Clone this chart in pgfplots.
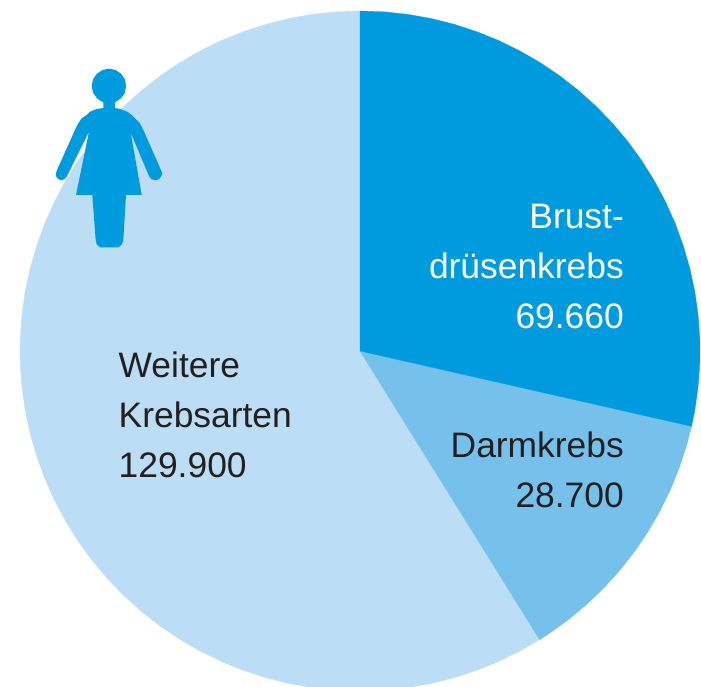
\documentclass[border=0pt]{standalone}
\usepackage{fontspec}
\setmainfont{Liberation Sans}
\usepackage{pgfplots}
\pgfplotsset{compat=1.18}
\definecolor{brust}{RGB}{0,155,223}
\definecolor{darm}{RGB}{117,193,236}
\definecolor{weitere}{RGB}{187,221,245}
\definecolor{txt}{RGB}{35,31,32}
\newcommand{\lab}{\fontsize{35.4}{35.4}\selectfont}
\begin{document}
\begin{tikzpicture}
\begin{axis}[scale only axis,width=701pt,height=687pt,
  xmin=-360,xmax=341,ymin=-336,ymax=351,
  xtick=\empty,ytick=\empty,axis line style={draw=none}]
% slices, angle and radius in px of the reference
\addplot[data cs=polar,fill=weitere,draw=weitere,line width=0.3pt] coordinates {(0,0)(-58.1,340)(-62,340)(-66,340)(-70,340)(-74,340)(-78,340)(-82,340)(-86,340)(-90,340)(-94,340)(-98,340)(-102,340)(-106,340)(-110,340)(-114,340)(-118,340)(-122,340)(-126,340)(-130,340)(-134,340)(-138,340)(-142,340)(-146,340)(-150,340)(-154,340)(-158,340)(-162,340)(-166,340)(-170,340)(-174,340)(-178,340)(-182,340)(-186,340)(-190,340)(-194,340)(-198,340)(-202,340)(-206,340)(-210,340)(-214,340)(-218,340)(-222,340)(-226,340)(-230,340)(-234,340)(-238,340)(-242,340)(-246,340)(-250,340)(-254,340)(-258,340)(-262,340)(-266,340)(-270,340)(0,0)};
\addplot[data cs=polar,fill=darm,draw=darm,line width=0.3pt] coordinates {(0,0)(-12.8,340)(-16,340)(-20,340)(-24,340)(-28,340)(-32,340)(-36,340)(-40,340)(-44,340)(-48,340)(-52,340)(-56,340)(-58.1,340)(0,0)};
\addplot[data cs=polar,fill=brust,draw=brust,line width=0.3pt] coordinates {(0,0)(90,340)(86,340)(82,340)(78,340)(74,340)(70,340)(66,340)(62,340)(58,340)(54,340)(50,340)(46,340)(42,340)(38,340)(34,340)(30,340)(26,340)(22,340)(18,340)(14,340)(10,340)(6,340)(2,340)(-2,340)(-6,340)(-10,340)(-12.8,340)(0,0)};
% figure
\addplot[fill=brust,draw=none] coordinates {(-234,265)(-235,271.6)(-238.8,277.2)(-244.4,281)(-251,282.3)(-257.6,281)(-263.2,277.2)(-267,271.6)(-268.3,265)(-267,258.4)(-263.2,252.8)(-257.6,249)(-251,247.7)(-244.4,249)(-238.8,252.8)(-235,258.4)(-234,265)};
\addplot[fill=brust,draw=none] coordinates {(-256.7,250)(-245,250)(-245,243)(-240,242)(-232.7,239.3)(-228.3,236)(-223.3,231)(-220,227.7)(-216.7,221)(-198.3,179.3)(-198,176)(-200.7,172)(-204.3,170.7)(-208.3,171.7)(-210.7,174.3)(-229.3,218.3)(-218.3,156)(-234,156)(-236.7,111)(-238,106.7)(-241.7,103.7)(-260,103.7)(-263.3,106.7)(-264.3,111)(-267.7,156)(-284,156)(-271,219.3)(-293.3,174.3)(-295.7,171.7)(-299.3,170.7)(-302.7,172.7)(-304.3,176)(-303.3,180.3)(-285,221)(-281.7,227.7)(-278.3,232.7)(-273.3,236)(-270,239.3)(-263.3,242)(-256.7,243)(-256.7,250)};
% labels
\node[anchor=base east,inner sep=0pt,text=white] at (axis cs:264,122.5) {\lab Brust-};
\node[anchor=base east,inner sep=0pt,text=white] at (axis cs:264,72.5) {\lab drüsenkrebs};
\node[anchor=base east,inner sep=0pt,text=white] at (axis cs:264,22.5) {\lab 69.660};
\node[anchor=base east,inner sep=0pt,text=txt] at (axis cs:264,-106.5) {\lab Darmkrebs};
\node[anchor=base east,inner sep=0pt,text=txt] at (axis cs:264,-156.5) {\lab 28.700};
\node[anchor=base west,inner sep=0pt,text=txt] at (axis cs:-241.5,-26.5) {\lab Weitere};
\node[anchor=base west,inner sep=0pt,text=txt] at (axis cs:-241.5,-77) {\lab Krebsarten};
\node[anchor=base west,inner sep=0pt,text=txt] at (axis cs:-241.5,-127) {\lab 129.900};
\end{axis}
\end{tikzpicture}
\end{document}
